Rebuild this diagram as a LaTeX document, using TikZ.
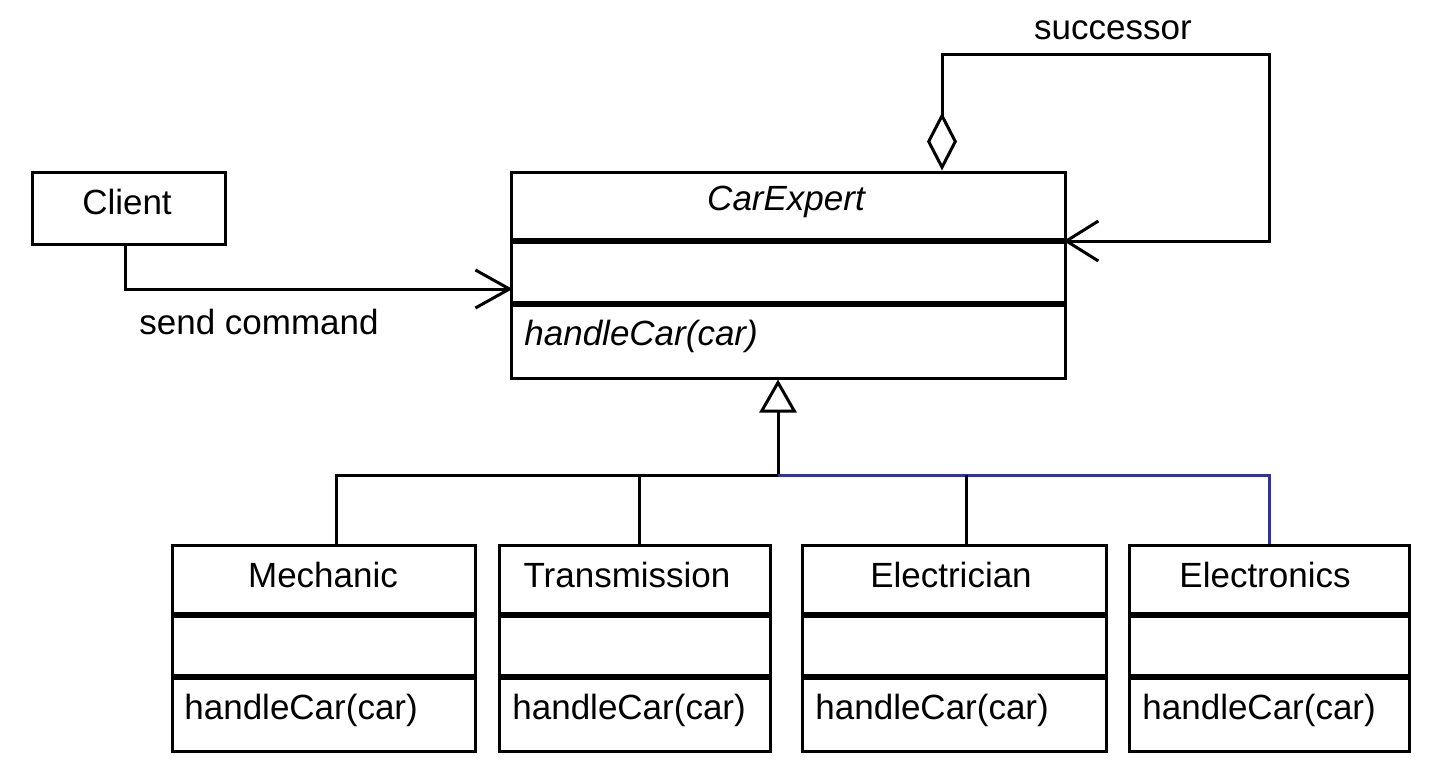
\documentclass[tikz,border=0pt]{standalone}
\usepackage{fontspec}
\setmainfont{Liberation Sans}
\usetikzlibrary{arrows.meta}

\definecolor{linkblue}{RGB}{51,51,153}

\tikzset{
    classbox/.style={draw, line width=1.5pt, inner sep=0pt, minimum height=103pt},
    sepline/.style={line width=3pt},
    conn/.style={line width=1.5pt},
    txt/.style={font=\fontsize{17.5}{20}\selectfont, inner sep=0pt},
}

\begin{document}
\begin{tikzpicture}[x=0.5pt, y=-0.5pt]
    \useasboundingbox (0,0) rectangle (1439,781);
    % Client
    \node[draw, line width=1.5pt, minimum width=96.5pt, minimum height=36pt] (client) at (128.5,208) {};
    \node[txt] (clienttxt) at (127,202) {Client};
    % Abstract handler
    \node[classbox, minimum width=277pt] (expert) at (788,275) {};
    \draw[sepline] (expert.north west) ++(0,70) -- ++(554,0);
    \draw[sepline] (expert.north west) ++(0,133) -- ++(554,0);
    \node[txt] (experttitle) at (786,202) {\itshape CarExpert};
    \node[txt, anchor=west] (expertop) at (524,336) {\itshape handleCar(car)};
    % Concrete handlers
    \node[classbox, minimum width=151.5pt] (mechanic) at (323.5,648) {};
    \node[classbox, minimum width=135.5pt] (transmission) at (634.5,648) {};
    \node[classbox, minimum width=152pt] (electrician) at (954,648) {};
    \node[classbox, minimum width=140pt] (electronics) at (1269,648) {};
    \foreach \cls/\name/\w/\xt/\xo in {mechanic/Mechanic/303/323/184, transmission/Transmission/271/627/512, electrician/Electrician/304/951/815, electronics/Electronics/280/1265/1142} {
        \draw[sepline] (\cls.north west) ++(0,71) -- ++(\w,0);
        \draw[sepline] (\cls.north west) ++(0,133) -- ++(\w,0);
        \node[txt] (\cls-title) at (\xt,575) {\name};
        \node[txt, anchor=west] (\cls-op) at (\xo,710) {handleCar(car)};
    }
    % Request from client
    \draw[conn, shorten >=-1.5pt, -{Straight Barb[length=17pt, width=19pt, line width=1.5pt]}]
        ([xshift=-1.75pt]client.south) |- ([yshift=-7pt]expert.west);
    \node[txt] (sendlbl) at (259,322) {send command};
    % Successor link
    \coordinate (loop) at (1269,55);
    \draw[conn, shorten >=-1.5pt, {Diamond[open, fill=white, length=29pt, width=15pt, line width=1.5pt]}-{Straight Barb[length=16pt, width=20pt, line width=1.5pt]}]
        ([xshift=77pt]expert.north) |- (loop) |- ([yshift=17pt]expert.east);
    \node[txt] (succlbl) at (1113,30) {successor};
    % Inheritance
    \coordinate (fork) at (778,475);
    \draw[conn, -{Triangle[open, fill=white, length=16.5pt, width=18.5pt, line width=1.5pt]}]
        (fork) -- (fork |- expert.south);
    \draw[conn] (fork) -| ([xshift=6.25pt]mechanic.north);
    \draw[conn] ([xshift=2.25pt]transmission.north) -- ([xshift=2.25pt]transmission.north |- fork);
    \draw[conn, linkblue] (fork) -| (electronics.north);
    \draw[conn] ([xshift=6pt]electrician.north) -- ([xshift=6pt]electrician.north |- fork);
\end{tikzpicture}
\end{document}
